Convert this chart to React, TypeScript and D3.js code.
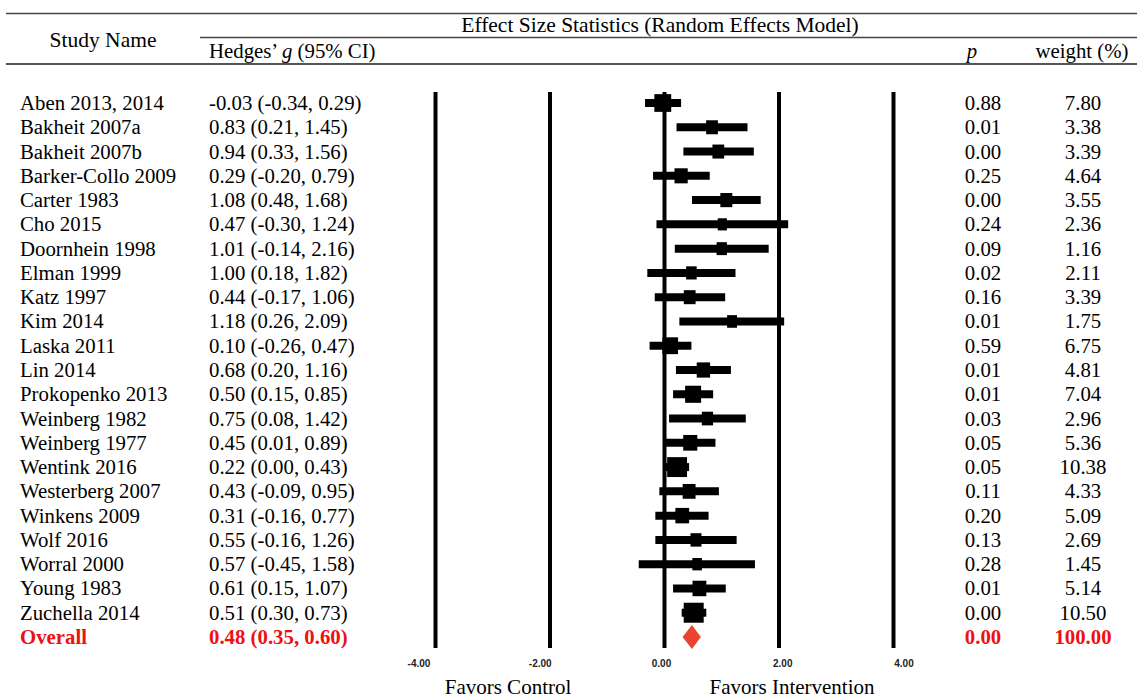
import React, { useEffect } from 'react';
import * as d3 from 'd3';

// study rows, as printed in the text columns
const studies = [
  'Aben 2013, 2014', 'Bakheit 2007a', 'Bakheit 2007b', 'Barker-Collo 2009', 'Carter 1983',
  'Cho 2015', 'Doornhein 1998', 'Elman 1999', 'Katz 1997', 'Kim 2014', 'Laska 2011',
  'Lin 2014', 'Prokopenko 2013', 'Weinberg 1982', 'Weinberg 1977', 'Wentink 2016',
  'Westerberg 2007', 'Winkens 2009', 'Wolf 2016', 'Worral 2000', 'Young 1983', 'Zuchella 2014',
];
const hedgesG = [-0.03, 0.83, 0.94, 0.29, 1.08, 0.47, 1.01, 1.00, 0.44, 1.18, 0.10, 0.68, 0.50, 0.75, 0.45, 0.22, 0.43, 0.31, 0.55, 0.57, 0.61, 0.51];
const ciLow = [-0.34, 0.21, 0.33, -0.20, 0.48, -0.30, -0.14, 0.18, -0.17, 0.26, -0.26, 0.20, 0.15, 0.08, 0.01, 0.00, -0.09, -0.16, -0.16, -0.45, 0.15, 0.30];
const ciHigh = [0.29, 1.45, 1.56, 0.79, 1.68, 1.24, 2.16, 1.82, 1.06, 2.09, 0.47, 1.16, 0.85, 1.42, 0.89, 0.43, 0.95, 0.77, 1.26, 1.58, 1.07, 0.73];
const pValues = [0.88, 0.01, 0.00, 0.25, 0.00, 0.24, 0.09, 0.02, 0.16, 0.01, 0.59, 0.01, 0.01, 0.03, 0.05, 0.05, 0.11, 0.20, 0.13, 0.28, 0.01, 0.00];
const weights = [7.80, 3.38, 3.39, 4.64, 3.55, 2.36, 1.16, 2.11, 3.39, 1.75, 6.75, 4.81, 7.04, 2.96, 5.36, 10.38, 4.33, 5.09, 2.69, 1.45, 5.14, 10.50];

// which study's marker is drawn on each row of the plot (as in the figure)
const plotOrder = [0, 1, 2, 3, 4, 6, 7, 5, 8, 9, 10, 11, 12, 13, 14, 15, 16, 17, 18, 19, 20, 21];

const overall = { label: 'Overall', g: 0.48, lo: 0.35, hi: 0.60, p: 0.00, weight: 100.00 };

const axisTicks = [-4, -2, 0, 2, 4];

const RED = '#ee1111';
const SERIF = '"Liberation Serif", "Times New Roman", serif';
const FS = 20.8;

const f2 = (v: number) => v.toFixed(2);

export default function App() {
  useEffect(() => {
    document.body.style.margin = '0';
  }, []);

  const width = 1137;
  const height = 700;

  const x = d3.scaleLinear().domain([-4, 4]).range([435.5, 893.5]);
  // the printed tick labels sit slightly wider than the lines
  const xLabel = d3.scaleLinear().domain([-4, 4]).range([419, 904]);
  const rows = d3.range(studies.length + 1);
  const y = d3.scalePoint<number>().domain(rows).range([103, 637]);
  const boxW = d3.scaleLinear().domain([1, 10.5]).range([9, 20]);
  const boxH = d3.scaleLinear().domain([1, 10.5]).range([12, 20]);

  const lineTop = 92;
  const lineBottom = 648;

  const textRow = (i: number, name: string, g: number, lo: number, hi: number, p: number, w: number, red = false) => {
    const yy = (y(i) as number) + 7;
    const common = {
      fontFamily: SERIF,
      fontSize: FS,
      fill: red ? RED : '#000',
      fontWeight: red ? 700 : 400,
    } as const;
    return (
      <g key={`t-${i}`}>
        <text x={20} y={yy} {...common}>{name}</text>
        <text x={209} y={yy} {...common}>{`${f2(g)} (${f2(lo)}, ${f2(hi)})`}</text>
        <text x={983} y={yy} textAnchor="middle" {...common}>{f2(p)}</text>
        <text x={1083} y={yy} textAnchor="middle" {...common}>{f2(w)}</text>
      </g>
    );
  };

  const oy = y(studies.length) as number;
  const diamond = [
    [x(overall.lo) - 2, oy],
    [x(overall.g), oy - 12],
    [x(overall.hi) + 2, oy],
    [x(overall.g), oy + 12],
  ];

  return (
    <svg width={width} height={height} viewBox={`0 0 ${width} ${height}`} style={{ display: 'block', background: '#fff' }}>
      {/* header */}
      <line x1={6} x2={width} y1={13.5} y2={13.5} stroke="#444" strokeWidth={1.5} />
      <line x1={200} x2={width} y1={37.5} y2={37.5} stroke="#444" strokeWidth={1.5} />
      <line x1={6} x2={width} y1={64} y2={64} stroke="#555" strokeWidth={2} />
      <text x={103} y={47} textAnchor="middle" fontFamily={SERIF} fontSize={21.5}>Study Name</text>
      <text x={660} y={32} textAnchor="middle" fontFamily={SERIF} fontSize={21.5}>Effect Size Statistics (Random Effects Model)</text>
      <text x={209} y={58} fontFamily={SERIF} fontSize={FS}>
        Hedges’ <tspan fontStyle="italic">g</tspan> (95% CI)
      </text>
      <text x={972} y={58} textAnchor="middle" fontFamily={SERIF} fontSize={FS} fontStyle="italic">p</text>
      <text x={1082} y={58} textAnchor="middle" fontFamily={SERIF} fontSize={FS}>weight (%)</text>

      {/* reference lines */}
      {axisTicks.map((t) => (
        <line key={`v-${t}`} x1={x(t)} x2={x(t)} y1={lineTop} y2={lineBottom} stroke="#000" strokeWidth={4} />
      ))}
      {axisTicks.map((t) => (
        <text
          key={`l-${t}`}
          x={xLabel(t)}
          y={667}
          textAnchor="middle"
          fontFamily='"Liberation Sans", Arial, sans-serif'
          fontWeight={700}
          fontSize={10}
          fill="#222"
        >
          {f2(t)}
        </text>
      ))}

      {/* study markers */}
      {plotOrder.map((s, row) => {
        const yy = y(row) as number;
        const bw = boxW(weights[s]);
        const bh = boxH(weights[s]);
        return (
          <g key={`m-${row}`}>
            <line x1={x(ciLow[s])} x2={x(ciHigh[s])} y1={yy} y2={yy} stroke="#000" strokeWidth={8} />
            <rect x={x(hedgesG[s]) - bw / 2} y={yy - bh / 2} width={bw} height={bh} fill="#000" />
          </g>
        );
      })}

      <polygon points={diamond.map((d) => d.join(',')).join(' ')} fill="#ea4330" />

      {/* text columns */}
      {studies.map((name, i) => textRow(i, name, hedgesG[i], ciLow[i], ciHigh[i], pValues[i], weights[i]))}
      {textRow(studies.length, overall.label, overall.g, overall.lo, overall.hi, overall.p, overall.weight, true)}

      {/* footer */}
      <text x={508} y={694} textAnchor="middle" fontFamily={SERIF} fontSize={21}>Favors Control</text>
      <text x={792} y={694} textAnchor="middle" fontFamily={SERIF} fontSize={21}>Favors Intervention</text>
    </svg>
  );
}
